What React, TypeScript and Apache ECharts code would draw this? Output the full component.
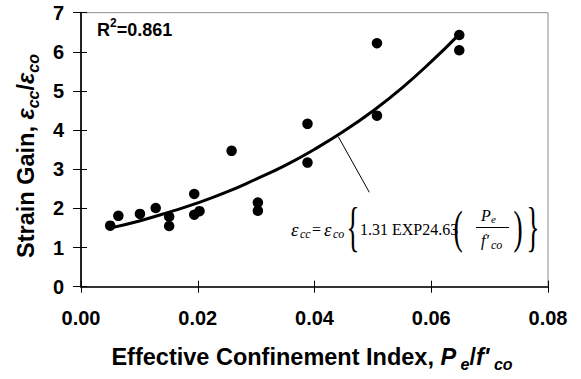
import React, { useEffect, useRef } from "react";
import * as echarts from "echarts";

// Measured data (effective confinement index vs. strain gain)
const confinementIndex = [0.005, 0.0064, 0.0101, 0.0128, 0.0151, 0.0151, 0.0194, 0.0194, 0.0203, 0.0258, 0.0303, 0.0303, 0.0388, 0.0388, 0.0507, 0.0507, 0.0648, 0.0648];
const strainGain = [1.56, 1.81, 1.86, 2.01, 1.79, 1.55, 2.37, 1.84, 1.93, 3.47, 2.15, 1.94, 4.16, 3.17, 6.22, 4.37, 6.43, 6.04];

// Trend line points
const trendX = [0.0053, 0.01, 0.015, 0.02, 0.025, 0.03, 0.035, 0.04, 0.045, 0.05, 0.055, 0.06, 0.0644];
const trendY = [1.51, 1.68, 1.9, 2.14, 2.42, 2.75, 3.1, 3.51, 3.97, 4.49, 5.08, 5.75, 6.39];

const xTickLabels = ["0.00", "0.02", "0.04", "0.06", "0.08"];
const yTickLabels = ["0", "1", "2", "3", "4", "5", "6", "7"];

const SANS = "Liberation Sans, Arial, sans-serif";
const SERIF = "Liberation Serif, Times New Roman, serif";

export default function App() {
  const ref = useRef<HTMLDivElement>(null);
  useEffect(() => {
    if (!ref.current) return;
    const chart = echarts.init(ref.current, null, { renderer: "svg" });
    const grid = { left: 81, right: 33, top: 12.7, bottom: 92.3 };
    const axisCommon = {
      splitLine: { show: false },
    };
    const ital = (size: number, bold = true) => ({
      fontFamily: SANS, fontSize: size, fontWeight: bold ? "bold" : "normal", fontStyle: "italic", fill: "#000",
    });
    const serifText = (text: string, x: number, y: number, size: number, italic: boolean, extra: any = {}) => ({
      type: "text", x, y, silent: true, ...extra,
      style: { text, fill: "#000", fontFamily: SERIF, fontSize: size, fontStyle: italic ? "italic" : "normal", align: extra.align || "left", verticalAlign: "middle" },
    });
    const titleRich = {
      b: { fontFamily: SANS, fontWeight: "bold", fontSize: 23.5, lineHeight: 24, verticalAlign: "top", fill: "#000" },
      i: { ...ital(23.5), lineHeight: 24, verticalAlign: "top" },
      s: { ...ital(16), lineHeight: 38, verticalAlign: "middle" },
    };
    const option: any = {
      animation: false,
      backgroundColor: "#fff",
      grid: { ...grid, show: true, borderColor: "#8c8c8c", borderWidth: 1, backgroundColor: "transparent" },
      xAxis: [
        {
          type: "value", min: 0, max: 0.08, interval: 0.02, position: "bottom",
          axisLine: { show: true, onZero: false, lineStyle: { color: "#333", width: 2 } },
          axisTick: { show: true, inside: false, length: 6, lineStyle: { color: "#000", width: 1 } },
          axisLabel: {
            margin: 21, fontFamily: SANS, fontWeight: "bold", fontSize: 20, color: "#000",
            formatter: (v: number) => xTickLabels[Math.round(v / 0.02)] ?? "",
          },
          ...axisCommon,
        },
        {
          type: "value", min: 0, max: 0.08, interval: 0.02, position: "bottom",
          axisLine: { show: false, onZero: false },
          axisTick: { show: true, inside: true, length: 6, lineStyle: { color: "#000", width: 1 } },
          axisLabel: { show: false },
          ...axisCommon,
        },
      ],
      yAxis: [
        {
          type: "value", min: 0, max: 7, interval: 1, position: "left",
          axisLine: { show: true, onZero: false, lineStyle: { color: "#222", width: 2 } },
          axisTick: { show: true, inside: false, length: 8, lineStyle: { color: "#000", width: 1 } },
          axisLabel: {
            margin: 17, fontFamily: SANS, fontWeight: "bold", fontSize: 20, color: "#000",
            formatter: (v: number) => yTickLabels[Math.round(v)] ?? "",
          },
          ...axisCommon,
        },
        {
          type: "value", min: 0, max: 7, interval: 1, position: "left",
          axisLine: { show: false, onZero: false },
          axisTick: { show: true, inside: true, length: 6, lineStyle: { color: "#000", width: 1 } },
          axisLabel: { show: false },
          ...axisCommon,
        },
      ],
      series: [
        {
          type: "line", xAxisIndex: 0, yAxisIndex: 0,
          data: trendX.map((x, i) => [x, trendY[i]]),
          smooth: true, showSymbol: false, symbol: "none",
          lineStyle: { color: "#000", width: 3 },
          silent: true, z: 2,
        },
        {
          type: "scatter", xAxisIndex: 0, yAxisIndex: 0,
          data: confinementIndex.map((x, i) => [x, strainGain[i]]),
          symbol: "circle", symbolSize: 10.5,
          itemStyle: { color: "#000", opacity: 1 },
          z: 3,
        },
      ],
      graphic: [
        // R^2 label
        {
          type: "text", x: 97, y: 23, silent: true,
          style: {
            text: "{m|R}{p|2}{m|=0.861}",
            verticalAlign: "middle", align: "left",
            rich: {
              m: { fontFamily: SANS, fontWeight: "bold", fontSize: 18, lineHeight: 20, verticalAlign: "bottom", fill: "#000" },
              p: { fontFamily: SANS, fontWeight: "bold", fontSize: 12, lineHeight: 32, verticalAlign: "middle", fill: "#000" },
            },
          },
        },
        // y axis title
        {
          type: "text", x: 33, y: 156, rotation: Math.PI / 2, silent: true,
          style: {
            text: "{b|Strain Gain, }{i|ε}{s|cc}{b|/}{i|ε}{s|co}",
            align: "center", verticalAlign: "middle",
            rich: titleRich,
          },
        },
        // x axis title
        {
          type: "text", x: 312, y: 364, silent: true,
          style: {
            text: "{b|Effective Confinement Index, }{i|P}{s| e}{b|/}{i|f'}{s| co}",
            align: "center", verticalAlign: "middle",
            rich: titleRich,
          },
        },
        // annotation leader line
        {
          type: "line", silent: true,
          shape: { x1: 338.3, y1: 136.7, x2: 369.3, y2: 192.3 },
          style: { stroke: "#000", lineWidth: 1 },
        },
        // formula
        serifText("ε", 291, 229, 19, true),
        serifText("cc", 300, 234, 12, true),
        serifText("=", 312, 229, 16, false),
        serifText("ε", 324, 229, 19, true),
        serifText("co", 333, 234, 12, true),
        serifText("{", 353, 227, 54, false, { align: "center", scaleX: 0.5 }),
        serifText("1.31 EXP24.63", 360, 229, 16, false),
        serifText("(", 458, 227, 46, false, { align: "center", scaleX: 0.6 }),
        serifText("P", 481, 215, 16, true),
        serifText("e", 491, 219, 11, true),
        {
          type: "line", silent: true,
          shape: { x1: 476, y1: 227.5, x2: 509, y2: 227.5 },
          style: { stroke: "#000", lineWidth: 1 },
        },
        serifText("f′", 481, 240, 16, true),
        serifText("co", 491, 245, 12, true),
        serifText(")", 518, 227, 46, false, { align: "center", scaleX: 0.6 }),
        serifText("}", 533, 227, 54, false, { align: "center", scaleX: 0.5 }),
      ],
    };
    chart.setOption(option);
    return () => chart.dispose();
  }, []);
  return <div ref={ref} style={{ width: 581, height: 379, position: "absolute", left: 0, top: 0 }} />;
}
